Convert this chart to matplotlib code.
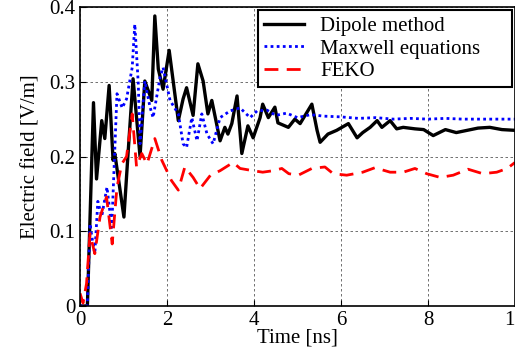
import numpy as np
import matplotlib
matplotlib.use("Agg")
import matplotlib.pyplot as plt

plt.rcParams['font.family'] = ['Liberation Serif', 'DejaVu Serif']
plt.rcParams['font.size'] = 15

# Dipole method
t_dip = [0, 0.17, 0.31, 0.38, 0.5, 0.57, 0.67, 0.76, 0.8, 1.01, 1.1, 1.22, 1.38, 1.49, 1.65,
         1.72, 1.8, 1.91, 2.05, 2.26, 2.37, 2.45, 2.6, 2.71, 2.83, 2.94, 3.03, 3.22, 3.33, 3.4,
         3.49, 3.61, 3.72, 3.86, 3.98, 4.14, 4.2, 4.33, 4.48, 4.55, 4.79, 4.94, 5.06, 5.33,
         5.45, 5.52, 5.7, 5.9, 6.17, 6.37, 6.5, 6.67, 6.83, 6.94, 7.13, 7.28, 7.43, 7.7, 7.9,
         8.12, 8.4, 8.65, 8.9, 9.15, 9.42, 9.7, 10.0]
e_dip = [0, 0, 0.272, 0.17, 0.248, 0.224, 0.295, 0.195, 0.204, 0.119, 0.2, 0.304, 0.2, 0.301, 0.275,
         0.388, 0.317, 0.29, 0.342, 0.248, 0.277, 0.292, 0.255, 0.324, 0.301, 0.257, 0.275, 0.221, 0.239, 0.23,
         0.244, 0.281, 0.204, 0.241, 0.225, 0.252, 0.27, 0.252, 0.266, 0.245, 0.239, 0.25, 0.244, 0.27,
         0.235, 0.219, 0.23, 0.235, 0.244, 0.225, 0.232, 0.239, 0.248, 0.239, 0.248, 0.237, 0.239, 0.237, 0.236,
         0.228, 0.236, 0.232, 0.235, 0.238, 0.239, 0.236, 0.235]

# Maxwell equations
t_max = [0, 0.17, 0.23, 0.28, 0.34, 0.41, 0.5, 0.62, 0.73, 0.85, 0.97, 1.07, 1.2, 1.26, 1.34, 1.38,
         1.49, 1.61, 1.68, 1.84, 1.91, 2.07, 2.26, 2.37, 2.45, 2.57, 2.69, 2.8, 2.92, 3.06, 3.22,
         3.45, 3.68, 3.91, 4.07, 4.3, 4.5, 4.75, 5.0, 5.3, 5.6, 6.0, 6.4, 6.8, 7.2, 7.6, 8.0,
         8.4, 8.8, 9.2, 9.6, 10.0]
e_max = [0, 0, 0.11, 0.09, 0.07, 0.14, 0.12, 0.159, 0.105, 0.284, 0.265, 0.277, 0.319, 0.377, 0.297, 0.217,
         0.301, 0.266, 0.252, 0.306, 0.319, 0.275, 0.257, 0.217, 0.212, 0.252, 0.221, 0.257, 0.23, 0.217, 0.252,
         0.261, 0.265, 0.252, 0.261, 0.262, 0.255, 0.258, 0.252, 0.256, 0.254, 0.253, 0.251, 0.252, 0.25, 0.251, 0.25,
         0.251, 0.25, 0.25, 0.25, 0.25]

# FEKO
t_feko = [0, 0.07, 0.15, 0.23, 0.34, 0.46, 0.61, 0.74, 0.85, 0.96, 1.07, 1.2, 1.3, 1.42, 1.54, 1.72,
          1.88, 2.1, 2.26, 2.41, 2.6, 2.76, 3.0, 3.22, 3.52, 3.68, 3.98, 4.2, 4.44, 4.64, 4.8, 5.02,
          5.33, 5.63, 5.82, 6.13, 6.5, 6.78, 7.13, 7.43, 7.7, 7.97, 8.28, 8.58, 8.92, 9.26, 9.58,
          9.82, 10.0]
e_feko = [0.017, 0.004, 0.03, 0.097, 0.07, 0.119, 0.146, 0.083, 0.159, 0.19, 0.2, 0.257, 0.186, 0.204, 0.19, 0.224,
          0.195, 0.168, 0.155, 0.186, 0.172, 0.157, 0.175, 0.181, 0.192, 0.184, 0.181, 0.179, 0.181, 0.184, 0.177, 0.175,
          0.184, 0.186, 0.177, 0.175, 0.179, 0.185, 0.179, 0.179, 0.184, 0.177, 0.172, 0.175, 0.183, 0.177, 0.179,
          0.184, 0.192]

fig = plt.figure(figsize=(5.15, 3.56), dpi=100)
ax = fig.add_axes([80 / 515, 50 / 356, 435 / 515, 299 / 356])

ax.plot(t_dip, e_dip, color='black', lw=2.4, label='Dipole method')
ax.plot(t_max, e_max, color='blue', lw=2, linestyle=(0, (1, 1.2)), label='Maxwell equations')
ax.plot(t_feko, e_feko, color='red', lw=2, linestyle=(0, (5, 3)), label='FEKO')

ax.set_xlim(0, 10)
ax.set_ylim(0, 0.4)
ax.set_xticks([0, 2, 4, 6, 8, 10])
ax.set_yticks([0, 0.1, 0.2, 0.3, 0.4])
ax.set_yticklabels(['0', '0.1', '0.2', '0.3', '0.4'])
ax.tick_params(direction='in', length=4)
ax.grid(True, color='0.35', linestyle=(0, (3, 3)), linewidth=0.6)
for s in ax.spines.values():
    s.set_linewidth(1.2)

ax.set_xlabel('Time [ns]', labelpad=-1)
ax.set_ylabel('Electric field [V/m]', labelpad=6)

leg = ax.legend(loc='upper left', bbox_to_anchor=(0.409, 0.0, 0.584, 0.99), mode='expand',
                fancybox=False, edgecolor='black', framealpha=1, borderaxespad=0,
                handlelength=1.9, handletextpad=0.8, labelspacing=0.15, borderpad=0.3)
leg.get_frame().set_linewidth(1.5)

fig.savefig('out.png', dpi=100)
